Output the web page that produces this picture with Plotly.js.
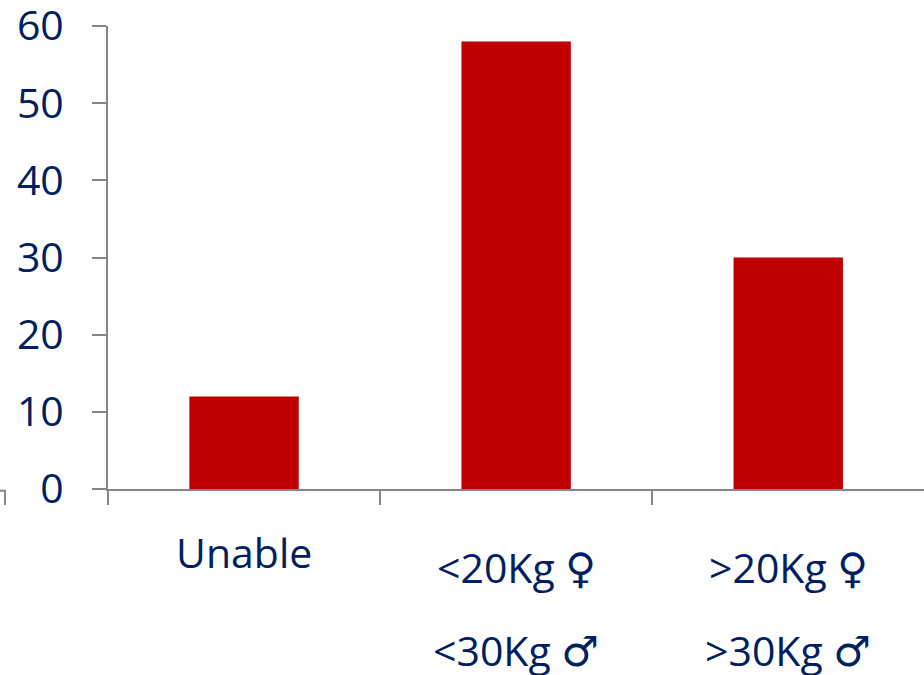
<!DOCTYPE html>
<html>
<head>
<meta charset="utf-8">
<script src="https://cdn.plot.ly/plotly-3.0.1.min.js"></script>
<style>html,body{margin:0;padding:0;background:#fff;overflow:hidden}</style>
</head>
<body>
<div id="chart" style="width:924px;height:675px"></div>
<script>
// Lift capacity groups and their percentages
const categories = ["Unable", "<20Kg ♀ <30Kg ♂", ">20Kg ♀ >30Kg ♂"];
const values = [12, 58, 30];
const yTicks = [0, 10, 20, 30, 40, 50, 60];
const labelRows = [
  [["Unable", ""]],
  [["&lt;20Kg", "♀"], ["&lt;30Kg", "♂"]],
  [["&gt;20Kg", "♀"], ["&gt;30Kg", "♂"]]
];

const ink = "#002060";
const axisGrey = "#868686";
const labelFont = {family: "'Open Sans', sans-serif", size: 41, color: ink};

// Gender signs need a font that draws them large enough next to the text
const symbol = s => s ? ` <span style="font-family:'DejaVu Sans';font-size:42px">${s}</span>` : "";

// Category labels sit on widely spaced rows, so each row is its own annotation
const rowOffsets = {1: [-63], 2: [-78, -161]};
const annotations = [];
labelRows.forEach((rows, i) => {
  rows.forEach(([text, sign], r) => {
    annotations.push({
      x: categories[i], xref: "x", y: 0, yref: "paper",
      yanchor: "middle", xanchor: "center", yshift: rowOffsets[rows.length][r],
      text: text + symbol(sign), showarrow: false, font: labelFont
    });
  });
});

Plotly.newPlot("chart", [{
  type: "bar",
  x: categories,
  y: values,
  width: 0.402,
  marker: {color: "#C00000"},
  hoverinfo: "x+y"
}], {
  width: 924,
  height: 675,
  margin: {l: 108, r: 0, t: 26, b: 186, pad: 0},
  paper_bgcolor: "#fff",
  plot_bgcolor: "#fff",
  showlegend: false,
  xaxis: {
    type: "category",
    range: [-0.5, 2.499],
    tickson: "boundaries",
    ticks: "outside",
    ticklen: 14,
    tickwidth: 2,
    tickcolor: axisGrey,
    showticklabels: false,
    showline: true,
    linecolor: axisGrey,
    linewidth: 2,
    showgrid: false,
    zeroline: false
  },
  yaxis: {
    range: [0, 60],
    tickvals: yTicks,
    ticks: "outside",
    ticklen: 14,
    tickwidth: 2,
    tickcolor: axisGrey,
    tickfont: labelFont,
    ticklabelstandoff: 20,
    ticklabeloverflow: "allow",
    showline: true,
    linecolor: axisGrey,
    linewidth: 2,
    showgrid: false,
    zeroline: false
  },
  annotations: annotations,
  // Corner of a neighbouring frame at the lower left edge
  shapes: [{
    type: "path", xref: "paper", yref: "paper",
    path: "M -0.1324 -0.004 L -0.1262 -0.004 L -0.1262 -0.0345",
    line: {color: axisGrey, width: 2}
  }]
}, {displayModeBar: false});
</script>
</body>
</html>
